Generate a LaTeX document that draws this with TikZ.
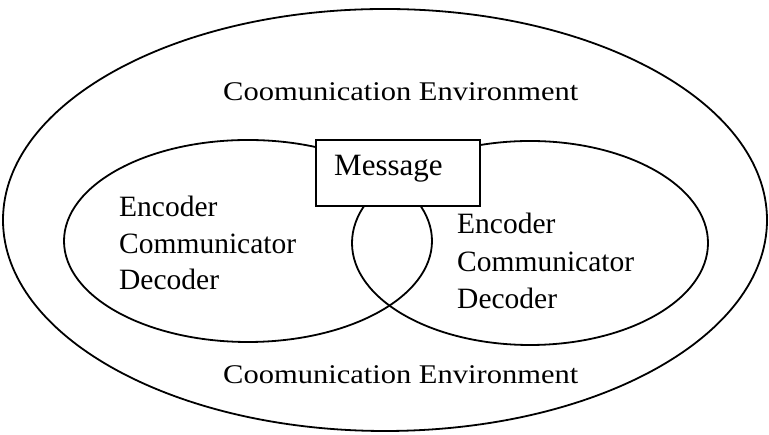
\documentclass[tikz,border=0pt]{standalone}
\usepackage{fontspec}
\setmainfont{Liberation Serif}
\begin{document}
\begin{tikzpicture}[x=1pt,y=1pt,
  ring/.style={draw=black,line width=1.8pt},
  lbl/.style={anchor=base west,inner sep=0pt,font=\fontsize{29.5}{34}\selectfont},
  envlbl/.style={anchor=base west,inner sep=0pt,font=\fontsize{27}{32}\selectfont}]
\useasboundingbox (0,0) rectangle (769,435);
\draw[ring] (385,215) ellipse [x radius=382, y radius=211];
\draw[ring] (248,194) ellipse [x radius=184, y radius=101];
\draw[ring] (530,192) ellipse [x radius=178, y radius=102];
\node[draw=black,line width=1.8pt,fill=white,minimum width=164pt,minimum height=66pt,inner sep=0pt] (box) at (398,262) {};
\node[lbl,font=\fontsize{31}{34}\selectfont] (msg) at (334,259) {Message};
\node[envlbl] (envtop) at (223,334) {\scalebox{1.13}[1]{Coomunication Environment}};
\node[envlbl] (envbot) at (223,51) {\scalebox{1.13}[1]{Coomunication Environment}};
\node[lbl] (l1) at (119,218) {Encoder};
\node[lbl] (l2) at (119,181) {Communicator};
\node[lbl] (l3) at (119,145) {Decoder};
\node[lbl] (r1) at (457,201) {Encoder};
\node[lbl] (r2) at (457,163) {Communicator};
\node[lbl] (r3) at (457,126) {Decoder};
\end{tikzpicture}
\end{document}
